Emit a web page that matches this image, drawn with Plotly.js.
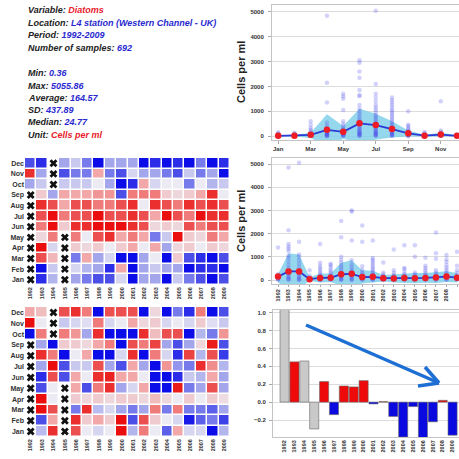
<!DOCTYPE html>
<html><head><meta charset="utf-8">
<script src="https://cdn.plot.ly/plotly-3.0.1.min.js"></script>
<style>html,body{margin:0;padding:0;background:#fff}#chart{width:459px;height:459px}</style>
</head><body><div id="chart"></div>
<script>
// ---------- DATA ----------
const monthNames = ['Jan','Feb','Mar','Apr','May','Jun','Jul','Aug','Sep','Oct','Nov','Dec'];
const monthNums = [1,2,3,4,5,6,7,8,9,10,11,12];
const years = [1992,1993,1994,1995,1996,1997,1998,1999,2000,2001,2002,2003,2004,2005,2006,2007,2008,2009];

const infoLines = [
  ['Variable: ', 'Diatoms', '#e8202a'],
  ['Location: ', 'L4 station (Western Channel - UK)', '#2a2ad0'],
  ['Period: ', '1992-2009', '#2a2ad0'],
  ['Number of samples: ', '692', '#2a2ad0'],
  ['Min: ', '0.36', '#2a2ad0'],
  ['Max: ', '5055.86', '#2a2ad0'],
  ['Average: ', '164.57', '#2a2ad0'],
  ['SD: ', '437.89', '#2a2ad0'],
  ['Median: ', '24.77', '#2a2ad0'],
  ['Unit: ', 'Cells per ml', '#e8202a']
];

// samples per month (Jan..Dec), cells per ml
const monthlySamples = [
  [150,100,60,40,30,20,15,10,8,5,3,2,1],
  [130,90,60,40,30,20,15,10,5,3,2,1],
  [600,450,320,250,180,130,100,80,60,40,30,20,10,5,2],
  [4850,2150,1350,550,420,330,280,240,200,170,140,110,90,70,50,35,20,10,5],
  [1700,1600,1500,1050,600,480,380,300,250,200,170,140,110,90,70,50,35,20,10],
  [3050,2950,2600,2350,1850,1650,1600,1250,1100,1000,900,800,700,620,550,480,420,360,310,260,220,180,150,120,90,60,40,20,10],
  [5050,2100,1700,1550,1400,1250,1150,1050,950,850,780,700,620,550,480,420,360,310,260,220,180,150,120,90,60,40,20,10],
  [1550,1450,1350,1250,1150,1050,980,900,820,740,660,580,500,430,370,320,270,230,190,150,120,90,60,40,20,10],
  [1000,450,400,320,260,210,170,140,110,80,60,40,25,15,5],
  [160,110,70,45,30,20,10,5,2],
  [1400,220,160,110,80,50,30,20,10,5],
  [60,40,25,15,10,5,2]
];
const monthlyMean  = [10,15,50,250,170,510,440,280,110,15,60,10];
const monthlyUpper = [40,40,130,880,400,1100,900,600,220,50,130,40];
const monthlyLower = [-20,-20,-80,-400,-120,-250,-150,-60,-20,-10,-20,-10];

// samples per year (1992..2009)
const yearlySamples = [
  [1400,250,150,100,60,30,10],
  [4850,2150,1550,1450,1350,1250,1050,950,800,650,520,420,330,250,180,120,70,30,10],
  [5050,1650,1100,1000,850,700,550,420,320,240,170,110,60,20,5],
  [420,200,120,70,40,20,5],
  [1550,750,620,520,430,340,260,190,130,80,40,15,5],
  [700,650,560,460,370,290,220,160,110,70,35,10],
  [2550,1850,1000,880,760,640,540,440,350,270,200,140,90,50,20,5],
  [3000,2950,1700,850,680,560,460,370,290,220,160,110,60,25,5],
  [2350,1650,600,430,330,250,180,120,70,30,5],
  [1700,950,870,790,700,610,520,440,360,290,220,160,110,60,25,5],
  [760,320,240,180,130,90,50,20,5],
  [1320,420,300,220,160,110,70,35,10],
  [1500,520,480,350,250,180,120,70,30,5],
  [1500,1000,330,250,180,120,70,30,5],
  [960,620,520,420,330,250,180,120,70,30,5],
  [2050,1150,920,420,330,250,180,120,70,30,5],
  [1080,900,780,640,530,430,340,260,190,130,80,40,10],
  [1220,620,420,300,210,140,80,40,10]
];
const yearlyMean  = [150,370,370,40,90,100,250,270,130,140,80,70,90,80,90,110,150,100];
const yearlyUpper = [250,1150,1100,120,280,280,750,850,420,400,220,250,300,300,300,350,380,300];
const yearlyLower = [-100,-400,-350,-40,-100,-80,-250,-300,-150,-120,-60,-100,-120,-140,-120,-130,-80,-100];

// heatmap 1 (rows Jan..Dec, columns 1992..2009), null = no data
const heat1 = [
  [null,-2.5,-0.8,null,-1,-1.5,-2,-2,-0.3,-3,-1,-1,-3,-0.5,-1.5,-2,-3,-2],
  [null,-3,-0.5,null,-0.3,-0.8,-1,-2.5,1,-3,-1,-0.5,-1,-1,-3,-2.5,-2.5,-3],
  [null,2,0.8,null,-1.5,1,-1,-0.3,-3,-3,-1,0,-3,0.5,-2,-2.5,-3,-2],
  [null,3,-0.3,null,0.5,0.3,0.5,0,0.5,1,0,1,-1,0.3,0.5,0,0.5,0.3],
  [null,0.3,1.5,null,1.5,0,2,2.5,1,1.5,1,-1.5,-0.5,3,0.5,0.3,1.5,1],
  [null,1.5,3,0.5,2.5,2.5,3,3,3,2.5,2,0.3,0.5,0.3,2,1.5,2,2],
  [null,2,3,1.5,2,2,3,2,2,2.5,2,1,3,2,1.5,3,2.5,2.5],
  [null,2.5,2,1,2,2,1.5,1.5,2,2.5,0,2.5,2,1.5,2.5,2,2.5,2],
  [null,0.5,-1,1,1,1,1.2,1.2,-2,1.5,1.5,1.5,0.5,0.3,0.5,1,2.5,0],
  [-1,-0.5,null,-0.5,-0.5,-0.5,0,-1,-3,-2.5,1,-0.3,0,0,-1.5,0,-0.8,-0.5],
  [2.5,-1,null,-2,-1.5,-1.5,1,-1.5,-2,-0.3,-1,-1,-1.5,-2,-0.5,-1.5,-1,-3],
  [-2,-2.5,null,-1,-0.5,-1.5,-3,-1,-1,-1,-3,-2.5,-3,-2.5,-3,-1.5,-3,-2.5]
];
// heatmap 2
const heat2 = [
  [null,-0.7,2.5,null,2,0,-0.3,0,3,-0.8,1.5,0,-1.8,1,-0.3,-0.3,-3,-0.8],
  [null,-2,1,null,2.5,0.5,1,0.5,3,-2,2,0.5,0,-0.3,-2.8,-1.8,-1.5,-2.2],
  [null,3,2,null,-1.5,2.5,-0.7,-0.3,-1,-1.5,-1,1.5,-1.5,1.5,-1.5,-1.5,-1.8,-1],
  [null,3,0,null,0.5,0.3,0.5,0.3,0.5,0.5,0.3,0.7,0.3,0,0.5,0,0.5,0.2],
  [null,-2,0,null,1,-2,1.5,2.5,-1,-0.3,1,-3,-3,2.8,-1.5,-1,2,-1],
  [null,-2.5,2,-2,1,0,2.5,2.7,1,1,0,-3,-3,-2.5,-0.5,-0.8,1,-1],
  [null,-1,3,-2,-0.5,-0.5,2,-1,-2,1,-1,-3,1.2,-1.2,-1.5,2.5,1.3,-0.8],
  [null,2.5,1.5,-3,0,1,-3,-3,-0.3,2.5,-3,1.5,-0.3,-2.5,2.2,-0.8,2,-2.3],
  [null,-1,-3,0.5,0.5,0.3,1,1.5,-3,2,1.5,2.2,-1,-2,-1,0.3,2.8,-2],
  [-3,1.5,null,1.5,1.2,-1,2.5,-3,-3,-3,2.5,0.7,2,2,-3,-0.8,-1.5,1.2],
  [3,0,null,-0.5,-0.3,-0.2,1.5,-0.3,0,1,0.3,0.5,-0.3,0,-0.3,0.5,-0.2,-0.5],
  [1,0.7,null,2,2.5,1.5,-3,2,2,2,-3,0.3,-3,-1.5,-2.5,1.5,-3,-2]
];

// annual anomaly bars
const barValues = [1.1,0.45,0.46,-0.3,0.23,-0.14,0.18,0.17,0.24,-0.02,0.005,-0.16,-0.39,-0.05,-0.4,-0.22,0.02,-0.37];
const incompleteYears = [1992,1994,1995];

// ---------- BUILD ----------
const W = 459, H = 459;
const px = x => x / W;
const py = y => 1 - y / H;
const FONT = 'Liberation Sans, Arial, sans-serif';
const tickF = (s) => ({family: FONT, size: s, color: '#333', weight: 'bold'});

const traces = [];

function stripChart(xs, samples, mean, upper, lower, xa, ya) {
  traces.push({x: xs, y: lower, xaxis: xa, yaxis: ya, mode: 'lines', line: {width: 0, color: 'rgba(0,0,0,0)'}, hoverinfo: 'skip', showlegend: false});
  traces.push({x: xs, y: upper, xaxis: xa, yaxis: ya, mode: 'lines', line: {width: 0, color: 'rgba(0,0,0,0)'}, fill: 'tonexty', fillcolor: 'rgba(130,208,234,0.85)', showlegend: false});
  const sx = [], sy = [];
  samples.forEach((arr, i) => arr.forEach(v => { sx.push(xs[i]); sy.push(v); }));
  traces.push({x: sx, y: sy, xaxis: xa, yaxis: ya, mode: 'markers', type: 'scatter',
    marker: {size: 4.5, color: 'rgba(80,80,235,0.26)'}, showlegend: false});
  traces.push({x: xs, y: mean, xaxis: xa, yaxis: ya, mode: 'lines+markers',
    line: {color: '#2a3ad6', width: 1.8}, marker: {size: 6.5, color: '#ee1c24'}, showlegend: false});
}
stripChart(monthNums, monthlySamples, monthlyMean, monthlyUpper, monthlyLower, 'x', 'y');
stripChart(years, yearlySamples, yearlyMean, yearlyUpper, yearlyLower, 'x2', 'y2');

const cs = [[0,'rgb(12,12,232)'],[0.18,'rgb(80,84,232)'],[0.34,'rgb(168,170,236)'],[0.5,'rgb(236,234,242)'],
            [0.66,'rgb(242,172,172)'],[0.82,'rgb(236,84,84)'],[1,'rgb(234,14,14)']];
function heat(z, xa, ya) {
  traces.push({type: 'heatmap', x: years, y: monthNums, z: z, xaxis: xa, yaxis: ya,
    colorscale: cs, zmin: -3, zmax: 3, showscale: false, xgap: 1.5, ygap: 1.5});
  const mx = [], my = [];
  z.forEach((row, r) => row.forEach((v, c) => { if (v === null) { mx.push(years[c]); my.push(monthNums[r]); } }));
  traces.push({x: mx, y: my, xaxis: xa, yaxis: ya, mode: 'markers', type: 'scatter',
    marker: {symbol: 'x', size: 7, color: '#111', line: {width: 0}}, showlegend: false});
}
heat(heat1, 'x3', 'y3');
heat(heat2, 'x4', 'y4');

traces.push({type: 'bar', x: years, y: barValues, xaxis: 'x5', yaxis: 'y5', width: 0.92,
  marker: {color: years.map((yr, i) => incompleteYears.includes(yr) ? '#c9c9c9' : (barValues[i] >= 0 ? '#ee0a0a' : '#0a0ae0')),
           line: {color: '#666', width: 0.6}}, showlegend: false});

const frame = {showline: true, mirror: true, linecolor: '#c4c4c4', linewidth: 1, zeroline: false};
const layout = {
  width: W, height: H, margin: {l: 0, r: 0, t: 0, b: 0},
  paper_bgcolor: '#fff', plot_bgcolor: '#fff', showlegend: false,
  font: {family: FONT},
  xaxis: Object.assign({domain: [px(272), 1], range: [0.62, 12.12], anchor: 'y',
    tickvals: [1,3,5,7,9,11], ticktext: ['Jan','Mar','May','Jul','Sep','Nov'],
    showgrid: false, ticks: 'outside', ticklen: 3, tickcolor: '#aaa', tickfont: tickF(6)}, frame),
  yaxis: Object.assign({domain: [py(140), py(5)], range: [-160, 5280], anchor: 'x',
    tickvals: [0,1000,2000,3000,4000,5000], gridcolor: '#dcdcdc', ticks: 'outside', ticklen: 3, tickcolor: '#aaa',
    ticklabelstandoff: 3, tickfont: tickF(6)}, frame),
  xaxis2: Object.assign({domain: [px(272), 1], range: [1991.43, 2009.19], anchor: 'y2',
    tickmode: 'linear', tick0: 1992, dtick: 1, tickangle: -90, showgrid: false,
    ticks: 'outside', ticklen: 2, tickcolor: '#aaa', tickfont: tickF(5.5)}, frame),
  yaxis2: Object.assign({domain: [py(284), py(158)], range: [-170, 5260], anchor: 'x2',
    tickvals: [0,1000,2000,3000,4000,5000], gridcolor: '#dcdcdc', ticks: 'outside', ticklen: 3, tickcolor: '#aaa',
    ticklabelstandoff: 3, tickfont: tickF(6)}, frame),
  xaxis3: {domain: [px(25), px(230)], range: [1991.5, 2009.5], anchor: 'y3', tickvals: years, tickangle: -90,
    showgrid: false, zeroline: false, showline: false, ticks: '', tickfont: tickF(5.5)},
  yaxis3: {domain: [py(285), py(158)], range: [0.5, 12.5], anchor: 'x3', tickvals: monthNums, ticktext: monthNames,
    showgrid: false, zeroline: false, showline: false, ticks: '', tickfont: tickF(7)},
  xaxis4: {domain: [px(25), px(230)], range: [1991.5, 2009.5], anchor: 'y4', tickvals: years, tickangle: -90,
    showgrid: false, zeroline: false, showline: false, ticks: '', tickfont: tickF(5.5)},
  yaxis4: {domain: [py(437), py(307)], range: [0.5, 12.5], anchor: 'x4', tickvals: monthNums, ticktext: monthNames,
    showgrid: false, zeroline: false, showline: false, ticks: '', tickfont: tickF(7)},
  xaxis5: Object.assign({domain: [px(273), 1], range: [1990.83, 2009.65], anchor: 'y5', tickvals: years, tickangle: -90,
    showgrid: false, ticks: '', tickfont: tickF(5.5)}, frame),
  yaxis5: Object.assign({domain: [py(437), py(310)], range: [-0.39, 1.03], anchor: 'x5',
    tickvals: [-0.2,0,0.2,0.4,0.6,0.8,1.0], tickformat: '.1f', gridcolor: '#dcdcdc', ticks: 'outside', ticklen: 3,
    tickcolor: '#aaa', ticklabelstandoff: 2, tickfont: tickF(6)}, frame),
  annotations: [],
  shapes: []
};

// info text
const infoY = [10, 23, 35, 48, 73, 86, 98, 110, 122, 135];
infoLines.forEach((ln, i) => {
  layout.annotations.push({xref: 'paper', yref: 'paper', x: px(26), y: py(infoY[i]), xanchor: 'left', yanchor: 'middle',
    showarrow: false, font: {family: FONT, size: 9, color: '#222', weight: 'bold', style: 'italic'},
    text: '<b><i>' + ln[0] + '<span style="color:' + ln[2] + '">' + ln[1] + '</span></i></b>'});
});
// y axis titles
[[72], [221]].forEach(([cy]) => {
  layout.annotations.push({xref: 'paper', yref: 'paper', x: px(241), y: py(cy), xanchor: 'center', yanchor: 'middle',
    textangle: -90, showarrow: false, text: '<b>Cells per ml</b>', font: {family: FONT, size: 11, color: '#222'}});
});
// trend arrow
const arrowCol = '#1e6fd4';
const seg = (a, b) => ({type: 'line', xref: 'paper', yref: 'paper', x0: px(a[0]), y0: py(a[1]), x1: px(b[0]), y1: py(b[1]),
  line: {color: arrowCol, width: 3.5}});
const tip = [439, 383];
layout.shapes.push(seg([306, 325], tip), seg([425, 367], tip), seg([418, 386], tip));

Plotly.newPlot('chart', traces, layout, {staticPlot: true});
</script></body></html>
